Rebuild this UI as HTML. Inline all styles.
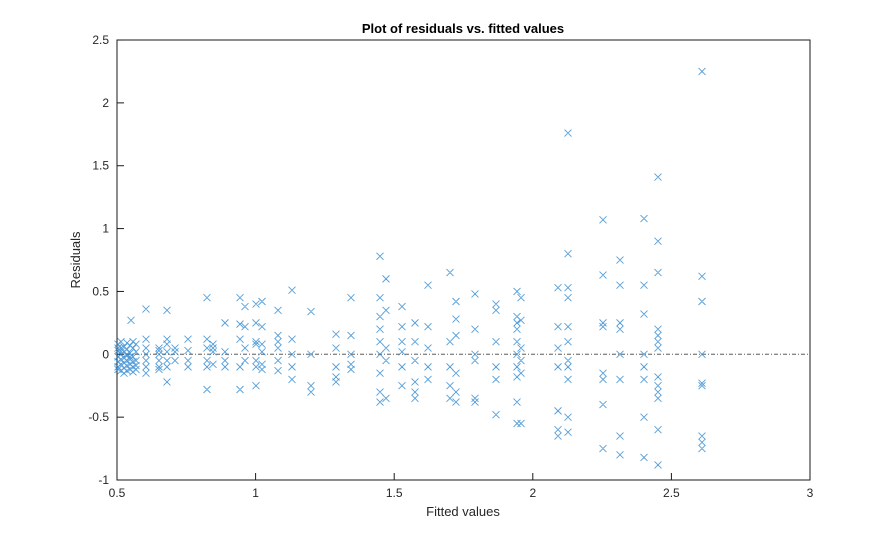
<!DOCTYPE html>
<html><head><meta charset="utf-8"><style>
html,body{margin:0;padding:0;background:#fff;}
svg{display:block;font-family:"Liberation Sans",sans-serif;}
</style></head><body>
<svg id="s" width="895" height="540" viewBox="0 0 895 540" xmlns="http://www.w3.org/2000/svg">
<rect x="0" y="0" width="895" height="540" fill="#fff"/>
<rect x="117" y="40" width="693" height="440" fill="#fff" stroke="#1a1a1a" stroke-width="1"/>
<text x="463" y="33" text-anchor="middle" font-size="13" font-weight="bold" fill="#000">Plot of residuals vs. fitted values</text>
<text x="463" y="516" text-anchor="middle" font-size="13" fill="#262626">Fitted values</text>
<text transform="translate(80,260) rotate(-90)" text-anchor="middle" font-size="13" fill="#262626">Residuals</text>
<line x1="117" y1="354.3" x2="810" y2="354.3" stroke="#888" stroke-width="1.3" stroke-dasharray="4,2,1,2"/>
<g id="ax" font-size="12" fill="#262626"></g>
<g id="pts" stroke="#2a86d0" stroke-width="0.9" fill="none" opacity="0.8"></g>
</svg>
<script>
var ns="http://www.w3.org/2000/svg";
function X(v){return 117+(v-0.5)*277.2;}
function Y(v){return 354.3-v*125.71;}
var ax=document.getElementById('ax');
function el(t,a,p,txt){var e=document.createElementNS(ns,t);for(var k in a)e.setAttribute(k,a[k]);if(txt!==undefined)e.textContent=txt;p.appendChild(e);return e;}
var xt=[0.5,1,1.5,2,2.5,3];
xt.forEach(function(v){var x=X(v);el('line',{x1:x,y1:480,x2:x,y2:473,stroke:'#1a1a1a'},ax);el('text',{x:x,y:497,'text-anchor':'middle'},ax,String(v));});
var yt=[-1,-0.5,0,0.5,1,1.5,2,2.5];
yt.forEach(function(v){var y=Y(v);el('line',{x1:117,y1:y,x2:124,y2:y,stroke:'#1a1a1a'},ax);el('text',{x:109,y:y+4,'text-anchor':'end'},ax,String(v));});
var cols=[
[118,[0.08,0.03,-0.02,-0.06,-0.1,0.05,-0.12]],
[121,[0.1,0.05,0,-0.04,-0.08,-0.13,0.02]],
[124,[0.06,0.02,-0.03,-0.07,-0.11,-0.15]],
[127,[0.09,0.04,-0.01,-0.05,-0.09,-0.13,0.0]],
[130,[0.07,0.01,-0.04,-0.08,-0.12,-0.02]],
[131,[0.27]],
[133,[0.1,0.05,-0.02,-0.06,-0.1,-0.14]],
[136,[0.08,0.02,-0.05,-0.09,-0.12]],
[146,[0.36,0.12,0.05,-0.05,-0.1,-0.15,0.0]],
[159,[0.05,0,-0.05,-0.1,-0.12,0.03]],
[167,[0.35,0.12,0.08,0.02,-0.05,-0.1,-0.22]],
[175,[0.05,-0.05,0.02]],
[188,[0.12,0.03,-0.05,-0.1]],
[207,[0.45,0.12,0.05,-0.05,-0.1,-0.28]],
[213,[0.08,0.02,-0.08,0.05]],
[225,[0.25,0.02,-0.05,-0.1]],
[240,[0.45,0.24,0.12,-0.1,-0.28]],
[245,[0.38,0.22,0.05,-0.05]],
[256,[0.4,0.25,0.1,0.08,-0.05,-0.1,-0.25]],
[262,[0.42,0.22,0.08,0.02,-0.08,-0.12]],
[278,[0.35,0.15,0.1,0.05,-0.05,-0.13]],
[292,[0.51,0.12,0.0,-0.1,-0.2]],
[311,[0.34,0.0,-0.25,-0.3]],
[336,[0.16,0.05,-0.1,-0.18,-0.22]],
[351,[0.45,0.15,0.0,-0.08,-0.12]],
[380,[0.78,0.45,0.3,0.2,0.1,0.0,-0.15,-0.3,-0.38]],
[386,[0.6,0.35,0.05,-0.05,-0.35]],
[402,[0.38,0.22,0.1,0.02,-0.1,-0.25]],
[415,[0.25,0.1,-0.05,-0.22,-0.3,-0.35]],
[428,[0.55,0.22,0.05,-0.1,-0.2]],
[450,[0.65,0.1,-0.1,-0.25,-0.35]],
[456,[0.42,0.28,0.15,-0.15,-0.3,-0.38]],
[475,[0.48,0.2,0.0,-0.05,-0.35,-0.38]],
[496,[0.4,0.35,0.1,-0.1,-0.2,-0.48]],
[517,[0.5,0.3,0.25,0.2,0.1,0.0,-0.1,-0.18,-0.38,-0.55]],
[521,[0.45,0.27,0.05,-0.05,-0.15,-0.55]],
[558,[0.53,0.22,0.05,-0.1,-0.45,-0.6,-0.65]],
[568,[1.76,0.8,0.53,0.45,0.22,0.1,-0.05,-0.1,-0.2,-0.5,-0.62]],
[603,[1.07,0.63,0.25,0.22,-0.15,-0.2,-0.4,-0.75]],
[620,[0.75,0.55,0.25,0.2,0.0,-0.2,-0.65,-0.8]],
[644,[1.08,0.55,0.32,0.0,-0.1,-0.2,-0.5,-0.82]],
[658,[1.41,0.9,0.65,0.2,0.15,0.1,0.05,-0.18,-0.25,-0.3,-0.35,-0.6,-0.88]],
[702,[2.25,0.62,0.42,0.0,-0.23,-0.25,-0.65,-0.7,-0.75]]
];
var d='';
cols.forEach(function(c){c[1].forEach(function(v){var x=c[0],y=Y(v),r=3.5;d+='M'+(x-r)+' '+(y-r)+'L'+(x+r)+' '+(y+r)+'M'+(x-r)+' '+(y+r)+'L'+(x+r)+' '+(y-r);});});
el('path',{d:d},document.getElementById('pts'));
</script>
</body></html>
